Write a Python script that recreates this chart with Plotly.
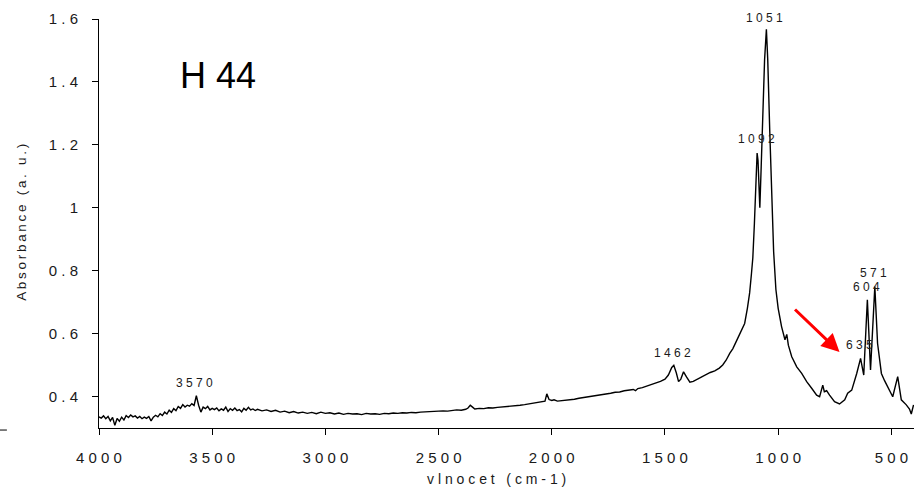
import plotly.graph_objects as go

# ---------------- data ----------------
wn_oh = [4000, 3990, 3980, 3970, 3960, 3950, 3940, 3930, 3920, 3910, 3900, 3890, 3880, 3870,
         3860, 3850, 3840, 3830, 3820, 3810, 3800, 3790, 3780, 3770, 3760, 3750, 3740, 3730,
         3720, 3710, 3700, 3690, 3680, 3670, 3660, 3650, 3640, 3630, 3620, 3610, 3600, 3590,
         3580, 3570, 3560, 3550, 3540, 3530, 3520, 3510, 3500, 3490, 3480, 3470, 3460, 3450,
         3440, 3430, 3420, 3410, 3400, 3390, 3380, 3370, 3360, 3350, 3340, 3330, 3320, 3310, 3300]
abs_oh = [0.335, 0.331, 0.338, 0.329, 0.336, 0.322, 0.333, 0.308, 0.330, 0.321, 0.334, 0.325, 0.339, 0.333,
          0.341, 0.335, 0.338, 0.331, 0.336, 0.329, 0.334, 0.330, 0.336, 0.322, 0.334, 0.340, 0.335, 0.345,
          0.339, 0.350, 0.344, 0.356, 0.349, 0.361, 0.355, 0.368, 0.362, 0.374, 0.366, 0.372, 0.369, 0.377,
          0.371, 0.402, 0.372, 0.350, 0.366, 0.361, 0.368, 0.357, 0.362, 0.358, 0.363, 0.354, 0.360, 0.356,
          0.366, 0.352, 0.361, 0.356, 0.363, 0.355, 0.358, 0.351, 0.362, 0.356, 0.365, 0.357, 0.360, 0.355, 0.359]

wn_mid = [3280, 3260, 3240, 3220, 3200, 3180, 3160, 3140, 3120, 3100, 3080, 3060, 3040, 3020, 3000,
          2980, 2960, 2940, 2920, 2900, 2880, 2860, 2840, 2820, 2800, 2780, 2760, 2740, 2720, 2700,
          2680, 2660, 2640, 2620, 2600, 2580, 2560, 2540, 2520, 2500, 2480, 2460, 2440, 2420, 2400,
          2380, 2370, 2360, 2350, 2340, 2320, 2300, 2280, 2260, 2240, 2220, 2200, 2180, 2160, 2140,
          2120, 2100, 2080, 2060, 2040, 2030, 2022, 2012, 2000, 1990, 1975]
abs_mid = [0.354, 0.357, 0.352, 0.356, 0.350, 0.353, 0.348, 0.352, 0.347, 0.350, 0.346, 0.349, 0.345, 0.350, 0.346,
           0.348, 0.344, 0.347, 0.343, 0.346, 0.344, 0.345, 0.342, 0.346, 0.344, 0.345, 0.343, 0.346, 0.345, 0.347,
           0.346, 0.348, 0.347, 0.349, 0.348, 0.350, 0.351, 0.352, 0.351, 0.353, 0.354, 0.353, 0.356, 0.357, 0.356,
           0.359, 0.363, 0.372, 0.366, 0.360, 0.362, 0.361, 0.364, 0.363, 0.365, 0.366, 0.368, 0.369, 0.371, 0.372,
           0.374, 0.376, 0.378, 0.380, 0.382, 0.385, 0.408, 0.390, 0.387, 0.389, 0.385]

wn_fp = [1960, 1940, 1920, 1900, 1880, 1860, 1840, 1820, 1800, 1780, 1760, 1740, 1720, 1700, 1680,
         1660, 1640, 1630, 1620, 1600, 1580, 1560, 1540, 1520, 1500, 1485, 1470, 1461, 1450, 1440,
         1430, 1418, 1405, 1390, 1375, 1360, 1340, 1320, 1300, 1280, 1260, 1245, 1230, 1214, 1200,
         1185, 1170, 1161, 1148, 1136, 1126, 1118, 1112, 1105, 1098, 1093, 1089, 1084, 1081, 1075,
         1068, 1060, 1052, 1046, 1037, 1028, 1020, 1010, 1000, 985, 976, 970, 962, 955, 940,
         918, 896, 874, 852, 830, 817, 803, 796, 786, 773, 751, 729, 706, 693, 675,
         653, 636, 622, 606, 592, 573, 561, 544, 530, 516, 494, 472, 456, 434, 420, 412, 402]
abs_fp = [0.386, 0.388, 0.390, 0.391, 0.394, 0.396, 0.399, 0.401, 0.403, 0.405, 0.407, 0.410, 0.413, 0.414, 0.418,
          0.421, 0.422, 0.418, 0.425, 0.428, 0.433, 0.437, 0.443, 0.448, 0.455, 0.468, 0.492, 0.499, 0.475, 0.447,
          0.455, 0.478, 0.462, 0.445, 0.448, 0.454, 0.462, 0.470, 0.476, 0.481, 0.490, 0.500, 0.515, 0.537, 0.552,
          0.575, 0.597, 0.611, 0.632, 0.680, 0.729, 0.790, 0.840, 0.950, 1.080, 1.174, 1.150, 1.030, 1.000, 1.130,
          1.300, 1.470, 1.567, 1.470, 1.240, 1.020, 0.860, 0.740, 0.680, 0.622, 0.595, 0.580, 0.597, 0.563, 0.526,
          0.494, 0.473, 0.447, 0.426, 0.404, 0.399, 0.436, 0.415, 0.418, 0.404, 0.383, 0.376, 0.389, 0.410, 0.420,
          0.473, 0.521, 0.468, 0.707, 0.484, 0.749, 0.569, 0.473, 0.450, 0.431, 0.399, 0.463, 0.389, 0.373, 0.360, 0.344, 0.373]

x_ticks = [4000, 3500, 3000, 2500, 2000, 1500, 1000, 500]
y_ticks = [0.4, 0.6, 0.8, 1.0, 1.2, 1.4, 1.6]
y_tick_labels = ["0.4", "0.6", "0.8", "1", "1.2", "1.4", "1.6"]
peak_labels = ["3570", "1462", "1092", "1051", "635", "604", "571"]

sample_name = "H 44"
x_title = "vlnocet (cm-1)"
y_title = "Absorbance (a. u.)"

# ---------------- figure ----------------
wn = wn_oh + wn_mid + wn_fp
ab = abs_oh + abs_mid + abs_fp

FONT = "Arial, Liberation Sans, sans-serif"
TXT = "#1a1a1a"


def spaced(s, sep=" "):
    return sep.join(list(s))


fig = go.Figure()
fig.add_trace(go.Scatter(x=wn, y=ab, mode="lines",
                         line=dict(color="black", width=1.4), showlegend=False,
                         hoverinfo="skip"))

# peak label positions (data coordinates of label centres, plus pixel shift)
label_pos = {
    "3570": (3576, 0.443, 0),
    "1462": (1466, 0.538, 0),
    "1092": (1095, 1.218, 0),
    "1051": (1059, 1.55, 17),
    "635": (640, 0.563, 0),
    "604": (609, 0.748, 0),
    "571": (578, 0.792, 0),
}
for lab in peak_labels:
    px, py, sh = label_pos[lab]
    fig.add_annotation(x=px, y=py, yshift=sh, text=spaced(lab), showarrow=False,
                       xanchor="center", yanchor="middle",
                       font=dict(family=FONT, size=12, color=TXT))

# sample name
fig.add_annotation(x=3650, y=1.42, text=sample_name, showarrow=False,
                   xanchor="left", yanchor="middle",
                   font=dict(family=FONT, size=36, color="black"))

# red arrow
fig.add_annotation(x=729, y=0.541, ax=-46, ay=-44, text="", showarrow=True,
                   arrowhead=2, arrowsize=1.2, arrowwidth=3, arrowcolor="#ff0000",
                   axref="pixel", ayref="pixel")

# axis titles
fig.add_annotation(xref="paper", yref="paper", x=-0.0945, y=0.504,
                   text=spaced(y_title, "\u2009"), textangle=-90, showarrow=False,
                   xanchor="center", yanchor="middle",
                   font=dict(family=FONT, size=13.5, color=TXT))
fig.add_annotation(xref="paper", yref="paper", x=0.488, y=-0.125,
                   text=spaced(x_title), showarrow=False,
                   xanchor="center", yanchor="middle",
                   font=dict(family=FONT, size=14, color=TXT))

# fragment of neighbouring figure at the left edge
fig.add_shape(type="line", xref="paper", yref="paper",
              x0=-0.1215, x1=-0.113, y0=-0.005, y1=-0.005,
              line=dict(color="black", width=1))

fig.update_xaxes(range=[4000, 400], tickmode="array", tickvals=x_ticks,
                 ticktext=[spaced(str(t)) for t in x_ticks],
                 showline=True, linecolor="black", linewidth=1,
                 ticks="outside", ticklen=6, tickcolor="black", tickwidth=1,
                 showgrid=False, zeroline=False, ticklabelstandoff=10,
                 automargin=False,
                 tickfont=dict(family=FONT, size=15, color=TXT))
fig.update_yaxes(range=[0.2995, 1.6], tickmode="array", tickvals=y_ticks,
                 ticktext=[spaced(t) for t in y_tick_labels],
                 showline=True, linecolor="black", linewidth=1,
                 ticks="outside", ticklen=6, tickcolor="black", tickwidth=1,
                 showgrid=False, zeroline=False, ticklabelstandoff=11,
                 automargin=False,
                 tickfont=dict(family=FONT, size=15, color=TXT))

fig.update_layout(width=916, height=488,
                  margin=dict(l=99, r=2, t=19, b=60, autoexpand=False),
                  plot_bgcolor="white", paper_bgcolor="white",
                  showlegend=False)

fig.write_html("out.html",
               config={"displayModeBar": False},
               post_script="document.body.style.margin='0';"
                           "document.body.style.overflow='hidden';")
